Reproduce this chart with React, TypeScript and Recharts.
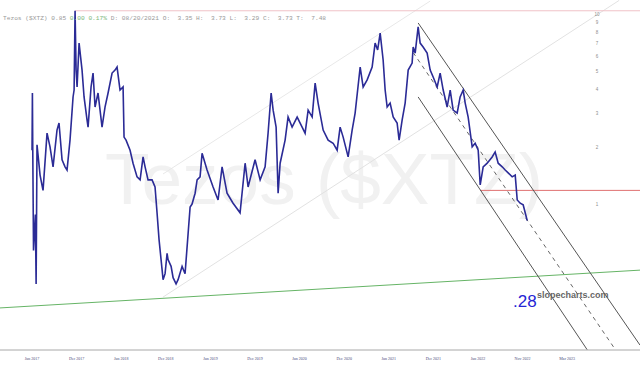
import { LineChart, Line, XAxis, YAxis, ReferenceLine } from "recharts"

// time in months after Jun 2017, price in USD (log scale)
const months = [
  0, 0.05, 0.1, 0.2, 0.45, 0.55, 0.67, 1.08, 1.48, 2.02, 2.42, 2.83, 3.36, 3.63, 4.04, 4.44, 4.71, 5.11,
  5.52, 5.66, 5.79, 5.93, 6.06, 6.33, 6.73, 7.0, 7.4, 7.54, 7.94, 8.21, 8.48, 8.88, 9.42, 9.82, 10.23,
  10.77, 11.17, 11.44, 11.84, 12.25, 12.38, 12.65, 13.19, 13.59, 14.13, 14.54, 14.94, 15.21, 15.61,
  16.15, 16.55, 16.82, 17.09, 17.5, 17.63, 17.9, 18.17, 18.3, 18.71, 18.98, 19.38, 19.65, 20.19, 20.59,
  21.0, 21.27, 21.53, 21.94, 22.21, 22.61, 22.88, 23.55, 24.36, 25.03, 25.57, 26.24, 27.05, 27.99,
  28.67, 29.07, 30.01, 30.69, 31.36, 31.76, 32.17, 32.44, 32.84, 33.11, 33.38, 34.05, 34.45, 34.99,
  35.67, 36.34, 36.74, 37.15, 37.69, 38.09, 38.49, 39.17, 39.84, 40.51, 41.05, 41.45, 41.86, 42.53,
  43.07, 43.47, 44.15, 44.55, 45.09, 45.76, 46.16, 46.5, 46.84, 47.24, 47.51, 47.78, 48.18, 48.59,
  49.12, 49.39, 49.8, 50.2, 50.61, 51.14, 51.28, 51.55, 51.95, 52.22, 52.62, 53.16, 53.57, 53.97,
  54.51, 54.91, 55.32, 55.85, 56.26, 56.66, 57.2, 57.6, 58.01, 58.28, 58.68, 59.22, 59.62, 60.03,
  60.3, 60.7, 61.24, 61.91, 62.31, 62.72, 63.26, 63.66, 64.06, 64.6, 65.01, 65.28, 65.68, 66.08, 66.62,
]

const prices = [
  1.92, 3.84, 1.92, 0.57, 0.88, 0.38, 2.05, 1.42, 1.18, 2.36, 2.0, 1.57, 2.45, 2.67, 1.71, 1.57, 1.51, 2.17,
  3.66, 3.98, 10.4, 5.07, 4.13, 7.03, 5.07, 3.66, 2.77, 2.54, 4.13, 4.89, 3.24, 3.84, 2.54, 3.24, 3.84,
  4.89, 5.07, 5.26, 3.98, 4.13, 2.25, 2.17, 1.92, 1.64, 1.39, 1.34, 1.77, 1.57, 1.34,
  1.34, 1.23, 0.9, 0.65, 0.45, 0.4, 0.43, 0.55, 0.51, 0.47, 0.41, 0.38, 0.4, 0.47, 0.43,
  0.7, 0.965, 1.0, 1.14, 1.34, 1.39, 1.85, 1.51, 1.23, 1.05, 1.57, 1.14, 1.01, 0.9,
  1.64, 1.23, 1.71, 1.34, 1.57, 2.36, 3.84, 3.12, 2.54, 1.14, 1.64, 2.17, 2.87, 2.54,
  2.87, 2.54, 2.36, 3.12, 2.87, 4.33, 3.4, 2.45, 2.17, 2.09, 1.92, 2.54, 2.25, 1.77,
  2.45, 3.01, 5.26, 4.13, 4.5, 5.26, 7.03, 6.47, 7.94, 5.73, 3.98, 3.24, 3.4, 2.87,
  2.67, 2.17, 2.77, 3.4, 5.07, 5.52, 6.7, 6.23, 8.55, 7.03, 6.7, 6.23, 5.07, 4.66,
  4.13, 4.89, 3.98, 3.24, 3.98, 3.12, 3.01, 3.66, 3.98, 3.4, 2.87, 2.0, 2.09, 1.92,
  1.26, 1.57, 1.64, 1.77, 1.88, 1.64, 1.57, 1.51, 1.46, 1.39, 1.42, 1.05, 1.01, 0.99, 0.82,
]

const tickMonths = [0, 6, 12, 18, 24, 30, 36, 42, 48, 54, 60, 66, 72]
const tickLabels = [
  "Jun 2017", "Dec 2017", "Jun 2018", "Dec 2018", "Jun 2019", "Dec 2019", "Jun 2020",
  "Dec 2020", "Jun 2021", "Dec 2021", "Jun 2022", "Nov 2022", "Mar 2023",
]
const priceTicks = [1, 2, 3, 4, 5, 6, 7, 8, 9, 10]

// drawn trend lines: [[month, price], [month, price]]
const topLevel = [[5.79, 10.4], [81.8, 10.4]]
const supportLevel = [[60.3, 1.18], [81.8, 1.18]]
const baseLine = [[-4.31, 0.284], [81.8, 0.449]]
const riseLower = [[17.63, 0.324], [79.0, 11.8]]
const riseUpper = [[17.63, 1.44], [53.57, 11.7]]
const fallUpper = [[51.95, 8.97], [81.8, 0.181]]
const fallMid = [[51.28, 6.27], [78.5, 0.171]]
const fallLower = [[51.95, 3.66], [74.7, 0.171]]

const data = months.map((t, i) => ({ t, price: prices[i] }))

const seg = (l: number[][]) => [
  { x: l[0][0], y: l[0][1] },
  { x: l[1][0], y: l[1][1] },
]

const PriceTick = (p: any) => (
  <text
    x={597}
    y={p.y + 1.7}
    textAnchor="middle"
    fontSize={4.5}
    fontFamily="Liberation Sans, sans-serif"
    fill="#8c8c8c"
  >
    {p.payload.value}
  </text>
)

export default function App() {
  return (
    <div style={{ position: "absolute", left: 0, top: 0, width: 640, height: 366, background: "#fff" }}>
      <svg width={640} height={366} style={{ position: "absolute", left: 0, top: 0 }}>
        <text
          x={324}
          y={204}
          textAnchor="middle"
          fontSize={73}
          fontFamily="Liberation Sans, Arial, sans-serif"
          fill="#f1f1f1"
        >
          Tezos ($XTZ)
        </text>
      </svg>
      <div style={{ position: "absolute", left: 0, top: 0 }}>
        <LineChart width={640} height={366} data={data} margin={{ top: 0, right: 0, left: 0, bottom: 0 }}>
          <XAxis
            dataKey="t"
            type="number"
            domain={[-4.31, 81.8]}
            allowDataOverflow
            ticks={tickMonths}
            height={16}
            tickSize={0}
            tickLine={false}
            axisLine={{ stroke: "#a8a8a8", strokeWidth: 1 }}
            tick={(p: any) => (
              <text
                x={p.x}
                y={p.y + 8}
                textAnchor="middle"
                fontSize={4}
                fontFamily="Liberation Serif, serif"
                fill="#4a4a7a"
              >
                {tickLabels[tickMonths.indexOf(p.payload.value)]}
              </text>
            )}
          />
          <YAxis
            orientation="right"
            scale="log"
            domain={[0.1706, 11.85]}
            allowDataOverflow
            ticks={priceTicks}
            interval={0}
            width={1}
            mirror
            tickLine={false}
            axisLine={false}
            tick={<PriceTick />}
          />
          <ReferenceLine segment={seg(riseLower)} stroke="#e2e2e2" strokeWidth={1} ifOverflow="hidden" />
          <ReferenceLine segment={seg(riseUpper)} stroke="#e8e8e8" strokeWidth={1} ifOverflow="hidden" />
          <ReferenceLine segment={seg(topLevel)} stroke="#f0c2c8" strokeWidth={1} ifOverflow="hidden" />
          <ReferenceLine segment={seg(supportLevel)} stroke="#e07070" strokeWidth={1} ifOverflow="hidden" />
          <ReferenceLine segment={seg(baseLine)} stroke="#66b466" strokeWidth={1} ifOverflow="hidden" />
          <ReferenceLine segment={seg(fallUpper)} stroke="#555" strokeWidth={1} ifOverflow="hidden" />
          <ReferenceLine
            segment={seg(fallMid)}
            stroke="#666"
            strokeWidth={1}
            strokeDasharray="4 4"
            ifOverflow="hidden"
          />
          <ReferenceLine segment={seg(fallLower)} stroke="#555" strokeWidth={1} ifOverflow="hidden" />
          <Line
            dataKey="price"
            type="linear"
            stroke="#2b2b96"
            strokeWidth={1.6}
            dot={false}
            activeDot={false}
            isAnimationActive={false}
          />
        </LineChart>
      </div>
      <svg width={640} height={366} style={{ position: "absolute", left: 0, top: 0, pointerEvents: "none" }}>
        <text
          x={3}
          y={20}
          fontSize={6.2}
          fontFamily="Liberation Mono, monospace"
          fill="#999"
          xmlSpace="preserve"
          style={{ whiteSpace: "pre" }}
        >
          <tspan>Tezos ($XTZ) 0.85 </tspan>
          <tspan fill="#7ab87a">0.00 0.17%</tspan>
          <tspan> D: 08/20/2021 O:  3.35 H:  3.73 L:  3.29 C:  3.73 T:  7.48</tspan>
        </text>
        <text x={513} y={307} fontSize={17} fontFamily="Liberation Sans, Arial, sans-serif" fill="#2525d5">
          .28
        </text>
        <text
          x={537}
          y={298}
          fontSize={9}
          fontWeight="bold"
          fontFamily="Liberation Sans, Arial, sans-serif"
          fill="#666"
        >
          slopecharts.com
        </text>
      </svg>
    </div>
  )
}
